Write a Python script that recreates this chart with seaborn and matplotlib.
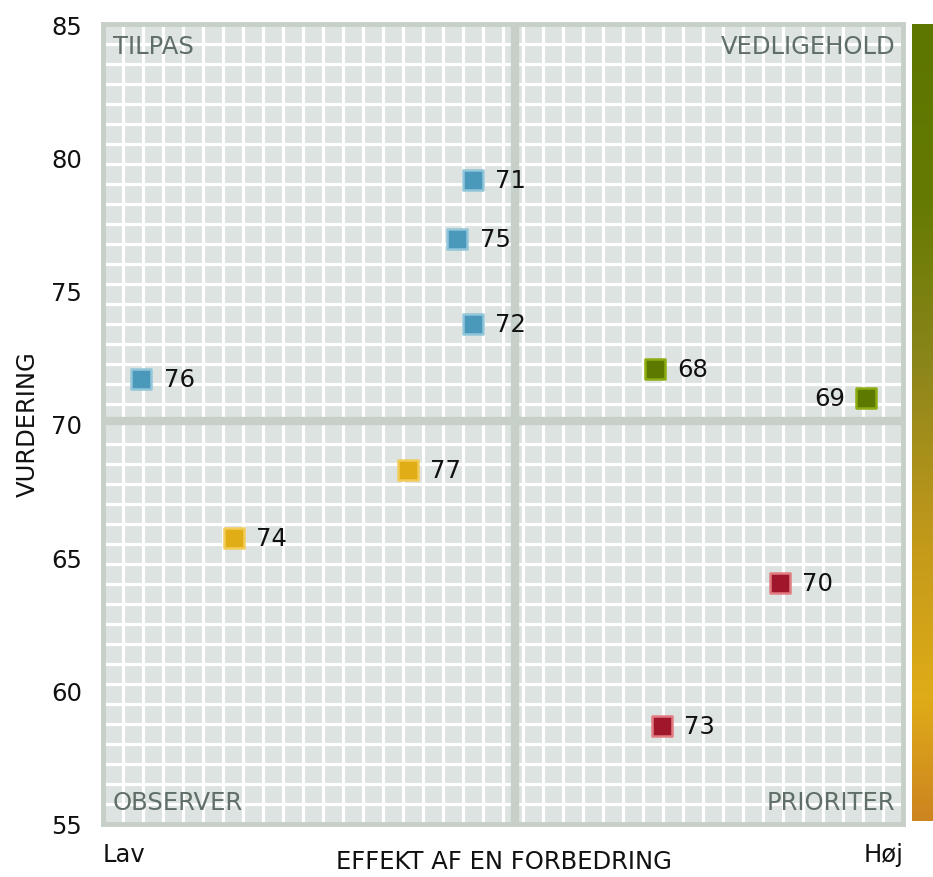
import numpy as np
import pandas as pd
import matplotlib
matplotlib.use("Agg")
import matplotlib.pyplot as plt
import seaborn as sns
from matplotlib.ticker import FixedLocator
from matplotlib.colors import LinearSegmentedColormap

# ---- data ----
labels = ["68", "69", "70", "71", "72", "73", "74", "75", "76", "77"]
effekt = [69.0, 95.4, 84.6, 46.2, 46.2, 69.9, 16.4, 44.3, 4.8, 38.1]
vurdering = [72.08, 70.99, 64.03, 79.16, 73.76, 58.69, 65.71, 76.95, 71.70, 68.27]
groups = ["VEDLIGEHOLD", "VEDLIGEHOLD", "PRIORITER", "TILPAS", "TILPAS",
          "PRIORITER", "OBSERVER", "TILPAS", "TILPAS", "OBSERVER"]
quadrant_names = ["TILPAS", "VEDLIGEHOLD", "OBSERVER", "PRIORITER"]
x_mid = 51.5
y_mid = 70.1

fill = {"TILPAS": "#4a99bb", "VEDLIGEHOLD": "#5c7a00",
        "OBSERVER": "#e0ad16", "PRIORITER": "#a0162b"}
edge = {"TILPAS": "#92c6da", "VEDLIGEHOLD": "#8cac10",
        "OBSERVER": "#f3cc58", "PRIORITER": "#e27c82"}

df = pd.DataFrame({"label": labels, "x": effekt, "y": vurdering, "g": groups})

sns.set_theme(style="white")
plt.rcParams["font.family"] = ["DejaVu Sans"]
FS = 17.5

fig = plt.figure(figsize=(9.33, 8.78), dpi=100)
ax = fig.add_axes([103 / 933, 53 / 878, 800 / 933, 800 / 878])
ax.set_facecolor("#dde3e0")
ax.set_xlim(0, 100)
ax.set_ylim(55, 85)

# grid
ax.xaxis.set_minor_locator(FixedLocator(np.arange(0, 100.01, 2.5)))
ax.yaxis.set_minor_locator(FixedLocator(np.arange(55, 85.01, 0.75)))
ax.grid(which="minor", color="white", linewidth=2.3)
ax.grid(which="major", visible=False)
ax.set_axisbelow(True)
ax.tick_params(which="both", length=0)
ax.set_xticks([])
ax.set_yticks([55, 60, 65, 70, 75, 80, 85])
ax.tick_params(axis="y", labelsize=FS, pad=15, labelcolor="#111111")

for s in ax.spines.values():
    s.set_color("#c6d0c8")
    s.set_linewidth(3.5)

ax.axhline(y_mid, color="#c6d0c8", linewidth=6, zorder=2)
ax.axvline(x_mid, color="#c6d0c8", linewidth=6, zorder=2)

for g in quadrant_names:
    sub = df[df["g"] == g]
    sns.scatterplot(data=sub, x="x", y="y", marker="s", s=215, color=fill[g],
                    edgecolor=edge[g], linewidth=1.8, ax=ax, zorder=5, legend=False)

for lab, x, y in zip(labels, effekt, vurdering):
    if x > 90:
        ax.annotate(lab, (x, y), xytext=(-15, 0), textcoords="offset points",
                    ha="right", va="center", fontsize=FS, color="#111111")
    else:
        ax.annotate(lab, (x, y), xytext=(16, 0), textcoords="offset points",
                    ha="left", va="center", fontsize=FS, color="#111111")

ax.set_xlabel("")
ax.set_ylabel("")

qc = "#5f6e66"
ax.text(0.012, 0.972, "TILPAS", transform=ax.transAxes, ha="left", va="center", fontsize=FS, color=qc)
ax.text(0.99, 0.972, "VEDLIGEHOLD", transform=ax.transAxes, ha="right", va="center", fontsize=FS, color=qc)
ax.text(0.012, 0.027, "OBSERVER", transform=ax.transAxes, ha="left", va="center", fontsize=FS, color=qc)
ax.text(0.99, 0.027, "PRIORITER", transform=ax.transAxes, ha="right", va="center", fontsize=FS, color=qc)

fig.text(103 / 933, 1 - 855 / 878, "Lav", ha="left", va="center", fontsize=FS, color="#111111")
fig.text(904 / 933, 1 - 855 / 878, "Høj", ha="right", va="center", fontsize=FS, color="#111111")
fig.text(504 / 933, 1 - 862 / 878, "EFFEKT AF EN FORBEDRING", ha="center", va="center",
         fontsize=FS, color="#111111")
fig.text(28 / 933, 1 - 424 / 878, "VURDERING", ha="center", va="center", rotation=90,
         fontsize=FS, color="#111111")

# colour bar
cmap = LinearSegmentedColormap.from_list(
    "qc", [(0.0, "#cc8420"), (0.153, "#e0ac18"), (0.363, "#c0981a"),
           (0.571, "#8c861a"), (0.78, "#657a02"), (1.0, "#5c7600")])
cax = fig.add_axes([912 / 933, 56 / 878, 21 / 933, 797 / 878])
cax.imshow(np.linspace(0, 1, 256).reshape(-1, 1), aspect="auto", cmap=cmap, origin="lower")
cax.set_axis_off()

fig.savefig("out.png", dpi=100)
